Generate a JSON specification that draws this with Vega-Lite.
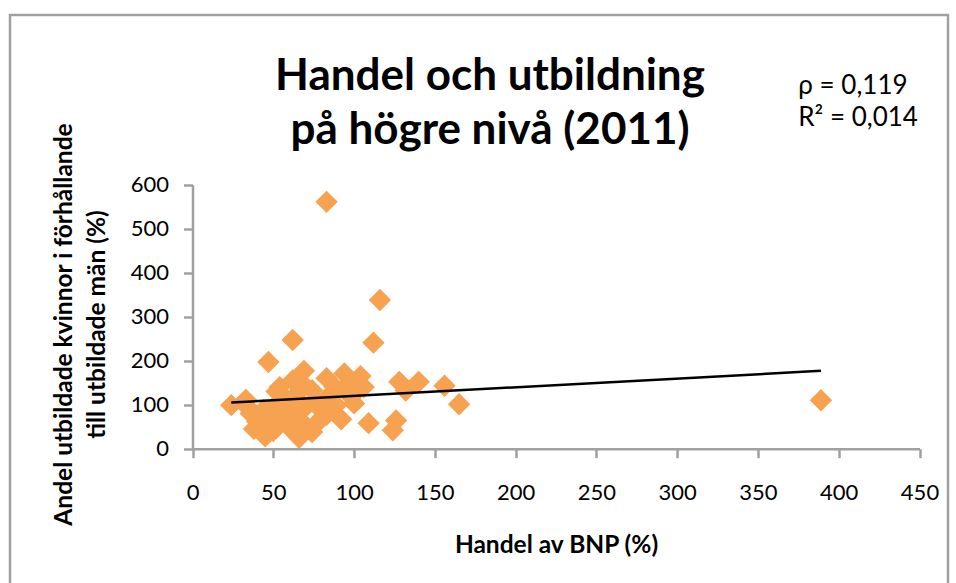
{
  "$schema": "https://vega.github.io/schema/vega-lite/v6.json",
  "width": 938,
  "height": 571,
  "autosize": {"type": "none"},
  "padding": {"left": 10, "top": 15, "right": 8, "bottom": 0},
  "background": "white",
  "config": {
    "font": "Lato",
    "view": {"stroke": "#A0A0A0", "strokeWidth": 2.5},
    "axis": {
      "grid": false,
      "domainColor": "#A0A0A0",
      "domainWidth": 2.5,
      "tickColor": "#A0A0A0",
      "tickWidth": 2.5,
      "tickSize": 9,
      "labelFont": "Lato",
      "labelFontSize": 22,
      "labelColor": "#000000",
      "labelFlush": false,
      "titleFont": "Lato",
      "titleFontSize": 24.5,
      "titleFontWeight": "bold",
      "titleColor": "#000000"
    }
  },
  "title": {
    "text": ["Handel och utbildning", "på högre nivå (2011)"],
    "font": "Lato",
    "fontSize": 44,
    "fontWeight": "bold",
    "color": "#000000",
    "anchor": "middle",
    "frame": "group",
    "orient": "top",
    "baseline": "top",
    "offset": 0,
    "dy": 138,
    "dx": 11,
    "lineHeight": 54
  },
  "layer": [
    {
      "data": {
        "values": [
          {"handel": 24, "andel": 99}, {"handel": 33, "andel": 111}, {"handel": 34, "andel": 95},
          {"handel": 36, "andel": 80}, {"handel": 38, "andel": 45}, {"handel": 40, "andel": 62},
          {"handel": 42, "andel": 75}, {"handel": 44, "andel": 88}, {"handel": 45, "andel": 28},
          {"handel": 46, "andel": 55}, {"handel": 47, "andel": 197}, {"handel": 48, "andel": 70},
          {"handel": 49, "andel": 90}, {"handel": 50, "andel": 40}, {"handel": 52, "andel": 130},
          {"handel": 53, "andel": 60}, {"handel": 54, "andel": 140}, {"handel": 55, "andel": 110},
          {"handel": 56, "andel": 120}, {"handel": 57, "andel": 85}, {"handel": 59, "andel": 70},
          {"handel": 60, "andel": 48}, {"handel": 61, "andel": 80}, {"handel": 62, "andel": 247},
          {"handel": 62, "andel": 155}, {"handel": 63, "andel": 118}, {"handel": 64, "andel": 35},
          {"handel": 65, "andel": 100}, {"handel": 66, "andel": 25}, {"handel": 67, "andel": 135},
          {"handel": 68, "andel": 60}, {"handel": 69, "andel": 177}, {"handel": 69, "andel": 145},
          {"handel": 70, "andel": 95}, {"handel": 72, "andel": 45}, {"handel": 74, "andel": 133},
          {"handel": 74, "andel": 38}, {"handel": 76, "andel": 110}, {"handel": 77, "andel": 58},
          {"handel": 79, "andel": 90}, {"handel": 80, "andel": 70}, {"handel": 83, "andel": 160},
          {"handel": 83, "andel": 115}, {"handel": 83, "andel": 77}, {"handel": 83, "andel": 561},
          {"handel": 88, "andel": 140}, {"handel": 89, "andel": 99}, {"handel": 92, "andel": 67},
          {"handel": 94, "andel": 171}, {"handel": 95, "andel": 130}, {"handel": 97, "andel": 150},
          {"handel": 100, "andel": 103}, {"handel": 101, "andel": 128}, {"handel": 104, "andel": 165},
          {"handel": 106, "andel": 140}, {"handel": 109, "andel": 58}, {"handel": 112, "andel": 241},
          {"handel": 116, "andel": 338}, {"handel": 124, "andel": 42}, {"handel": 126, "andel": 64},
          {"handel": 128, "andel": 152}, {"handel": 132, "andel": 132}, {"handel": 140, "andel": 152},
          {"handel": 156, "andel": 143}, {"handel": 165, "andel": 101}, {"handel": 389, "andel": 110}
        ]
      },
      "mark": {"type": "point", "shape": "diamond", "filled": true, "size": 500, "color": "#F7A250", "opacity": 1},
      "encoding": {
        "x": {
          "field": "handel",
          "type": "quantitative",
          "scale": {"domain": [0, 450], "range": [182.5, 909.5], "nice": false},
          "axis": {
            "values": [0, 50, 100, 150, 200, 250, 300, 350, 400, 450],
            "title": "Handel av BNP (%)",
            "offset": -137.3,
            "labelPadding": 25,
            "titlePadding": 30
          }
        },
        "y": {
          "field": "andel",
          "type": "quantitative",
          "scale": {"domain": [0, 600], "range": [433.7, 169.7], "nice": false},
          "axis": {
            "values": [0, 100, 200, 300, 400, 500, 600],
            "title": ["Andel utbildade kvinnor i förhållande", "till utbildade män (%)"],
            "offset": -182.5,
            "labelPadding": 15,
            "titlePadding": 21,
            "titleLineHeight": 33,
            "titleY": 309
          }
        }
      }
    },
    {
      "data": {"values": [{"handel": 24, "andel": 105}, {"handel": 389, "andel": 177}]},
      "mark": {"type": "line", "color": "#000000", "strokeWidth": 2.5},
      "encoding": {
        "x": {"field": "handel", "type": "quantitative"},
        "y": {"field": "andel", "type": "quantitative"}
      }
    },
    {
      "data": {"values": [{"note": "ρ = 0,119\nR² = 0,014"}]},
      "mark": {"type": "text", "align": "left", "baseline": "top", "fontSize": 26, "font": "Lato", "color": "#000000", "lineBreak": "\n", "lineHeight": 32},
      "encoding": {
        "x": {"datum": 375},
        "y": {"datum": 854},
        "text": {"field": "note"}
      }
    }
  ]
}
